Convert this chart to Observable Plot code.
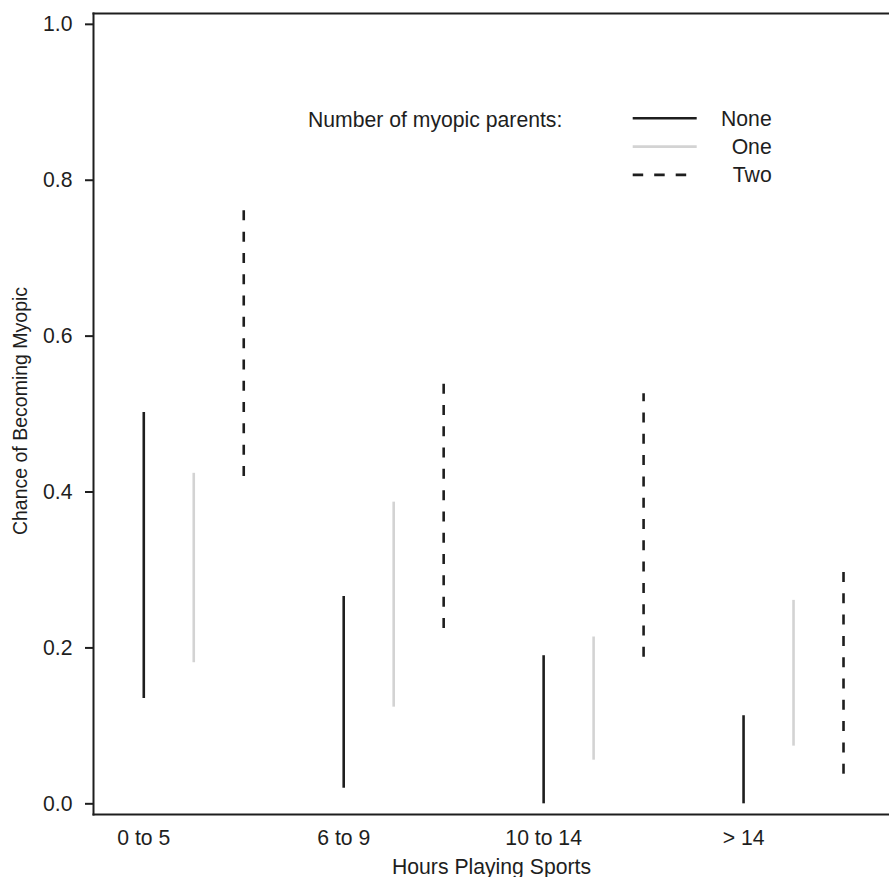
<!DOCTYPE html>
<html>
<head>
<meta charset="utf-8">
<script src="https://cdn.jsdelivr.net/npm/d3@7"></script>
<script src="https://cdn.jsdelivr.net/npm/@observablehq/plot@0.6"></script>
<style>
  html, body { margin: 0; padding: 0; background: #fff; }
  #chart { width: 889px; height: 877px; }
</style>
</head>
<body>
<div id="chart"></div>
<script>
// ---- data ----
const categories = ["0 to 5", "6 to 9", "10 to 14", "> 14"];
const seriesNames = ["None", "One", "Two"];
const lowNone  = [0.135, 0.020, 0.000, 0.000];
const highNone = [0.502, 0.266, 0.190, 0.113];
const lowOne   = [0.181, 0.124, 0.056, 0.074];
const highOne  = [0.424, 0.387, 0.214, 0.261];
const lowTwo   = [0.420, 0.225, 0.188, 0.038];
const highTwo  = [0.761, 0.552, 0.526, 0.308];
const yTicks = [0, 0.2, 0.4, 0.6, 0.8, 1.0];
const xLabel = "Hours Playing Sports";
const yLabel = "Chance of Becoming Myopic";
const legendTitle = "Number of myopic parents:";

// ---- styling ----
const ink = "#1e1e1e";
const colors = {None: "#1e1e1e", One: "#d3d3d3", Two: "#1e1e1e"};
const dashes = {None: null, One: null, Two: "10,11.3"};
const FS = 21.2;
const FS_YLABEL = 19.5;
const FONT = "'Liberation Sans', Arial, Helvetica, sans-serif";

const lows = {None: lowNone, One: lowOne, Two: lowTwo};
const highs = {None: highNone, One: highOne, Two: highTwo};
const rows = [];
seriesNames.forEach((s, si) => {
  categories.forEach((c, ci) => {
    rows.push({cat: ci, series: s, si, lo: lows[s][ci], hi: highs[s][ci]});
  });
});
const dodge = 0.25; // horizontal spacing between the series within a category

function legendMark() {
  const g = d3.create("svg:g")
    .attr("fill", ink)
    .attr("font-size", FS)
    .attr("font-family", FONT);
  g.append("text").attr("x", 308).attr("y", 126.5)
    .attr("text-anchor", "start").text(legendTitle);
  seriesNames.forEach((s, i) => {
    const y = 118.3 + i * 28.3;
    const line = g.append("line")
      .attr("x1", 632.7).attr("x2", 696.7)
      .attr("y1", y).attr("y2", y)
      .attr("stroke", colors[s]).attr("stroke-width", 2.6);
    if (dashes[s]) line.attr("stroke-dasharray", "10.5,11");
    g.append("text").attr("x", 771.7).attr("y", y + 7.5)
      .attr("text-anchor", "end").text(s);
  });
  return g.node();
}

const rules = seriesNames.map(s =>
  Plot.ruleX(rows.filter(d => d.series === s), {
    x: d => d.cat + d.si * dodge,
    y1: "lo",
    y2: "hi",
    stroke: colors[s],
    strokeWidth: 2.6,
    strokeDasharray: dashes[s] || undefined
  })
);

const plot = Plot.plot({
  width: 889,
  height: 877,
  marginLeft: 93,
  marginRight: 0,
  marginTop: 13,
  marginBottom: 63,
  x: {domain: [-0.2515, 3.73]},
  y: {domain: [-0.0137, 1.0139]},
  style: {
    fontFamily: FONT,
    fontSize: FS + "px",
    color: ink,
    background: "#fff",
    overflow: "visible"
  },
  marks: [
    Plot.frame({anchor: "top", stroke: ink, strokeWidth: 2}),
    Plot.frame({anchor: "left", stroke: ink, strokeWidth: 2}),
    Plot.frame({anchor: "bottom", stroke: ink, strokeWidth: 2}),
    Plot.axisY(yTicks, {
      tickSize: 8, tickPadding: 13, strokeWidth: 2,
      tickFormat: d3.format(".1f"), label: null, fontSize: FS
    }),
    Plot.axisX([0, 1, 2, 3], {
      tickSize: 0, tickPadding: 15,
      tickFormat: i => categories[i], label: null, fontSize: FS
    }),
    Plot.text([xLabel], {frameAnchor: "bottom", dy: 52.7, lineAnchor: "middle",
      textAnchor: "middle", fill: ink, fontSize: FS}),
    Plot.text([yLabel], {frameAnchor: "left", rotate: -90, dx: -73, dy: -3, lineAnchor: "middle",
      textAnchor: "middle", fill: ink, fontSize: FS_YLABEL}),
    ...rules,
    legendMark
  ]
});
document.getElementById("chart").appendChild(plot);
</script>
</body>
</html>
